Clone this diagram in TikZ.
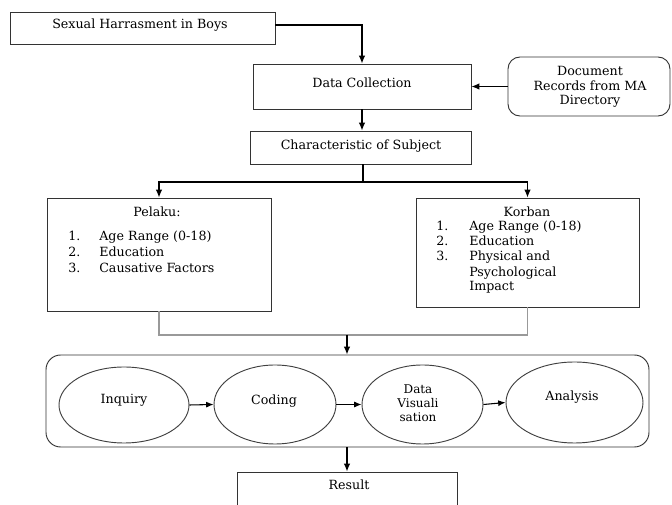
\documentclass[tikz,border=0pt]{standalone}
\usepackage{fontspec}
\setmainfont{DejaVu Serif}
\usetikzlibrary{arrows.meta,shapes.geometric}
\begin{document}
\begin{tikzpicture}[x=0.75pt,y=-0.75pt,
  box/.style={draw=black!80, line width=0.7pt, inner sep=0pt},
  oval/.style={draw=black!75, ellipse, line width=0.7pt, inner sep=0pt},
  conn/.style={line width=0.9pt, -{Latex[length=6pt,width=5pt]}},
  sconn/.style={line width=0.8pt, -{Latex[length=5.5pt,width=4.5pt]}},
  plain/.style={line width=0.9pt},
  grayline/.style={draw=black!40, line width=0.9pt},
  txt/.style={font=\fontsize{9.5}{11}\selectfont, inner sep=0pt},
  stxt/.style={font=\fontsize{9}{10.5}\selectfont, inner sep=0pt}
]
\useasboundingbox (0,0) rectangle (672,505);
\clip (0,0) rectangle (672,505);

% boxes
\node[box, minimum width=198.75pt, minimum height=24pt] (top) at (142.5,28) {};
\node[txt] (toptxt) at (140,25) {Sexual Harrasment in Boys};
\node[box, minimum width=163.5pt, minimum height=33.75pt] (dc) at (362,86.5) {};
\node[txt] (dctxt) at (362,83) {Data Collection};
\node[box, rounded corners=9pt, minimum width=121.5pt, minimum height=44.25pt] (doc) at (589,86.5) {};
\node[txt, align=center] (doctxt) at (590,87) {Document\\Records from MA\\Directory};
\node[box, minimum width=165.75pt, minimum height=24.75pt] (char) at (361,147.5) {};
\node[txt] (chartxt) at (361,146) {Characteristic of Subject};

\node[box, minimum width=168pt, minimum height=84.75pt] (pel) at (159,254.5) {};
\node[txt] (peltitle) at (157,212) {Pelaku:};
\node[txt, anchor=base west] (p1n) at (68,241) {1.};
\node[txt, anchor=base west] (p1) at (99,241) {Age Range (0-18)};
\node[txt, anchor=base west] (p2n) at (68,257) {2.};
\node[txt, anchor=base west] (p2) at (99,257) {Education};
\node[txt, anchor=base west] (p3n) at (68,273) {3.};
\node[txt, anchor=base west] (p3) at (99,273) {Causative Factors};

\node[box, minimum width=167.25pt, minimum height=81.75pt] (kor) at (527.5,252.5) {};
\node[txt] (kortitle) at (527,212) {Korban};
\node[txt, anchor=base west] (k1n) at (436,231) {1.};
\node[txt, anchor=base west] (k1) at (469,231) {Age Range (0-18)};
\node[txt, anchor=base west] (k2n) at (436,246) {2.};
\node[txt, anchor=base west] (k2) at (469,246) {Education};
\node[txt, anchor=base west] (k3n) at (436,261) {3.};
\node[txt, anchor=base west] (k3) at (469,261) {Physical and};
\node[txt, anchor=base west] (k3b) at (469,277) {Psychological};
\node[txt, anchor=base west] (k3c) at (469,291) {Impact};

% process container
\node[box, rounded corners=11pt, minimum width=452.25pt, minimum height=69pt] (cont) at (347.5,401) {};
\node[oval, minimum width=97.5pt, minimum height=57pt] (inq) at (124,405) {};
\node[txt] (inqtxt) at (124,400) {Inquiry};
\node[oval, minimum width=91.5pt, minimum height=59.25pt] (cod) at (275,404.5) {};
\node[txt] (codtxt) at (274,401) {Coding};
\node[oval, minimum width=90.75pt, minimum height=59.25pt] (vis) at (422.5,404.5) {};
\node[stxt, align=center] (vistxt) at (418,403) {Data\\Visuali\\sation};
\node[oval, minimum width=102.75pt, minimum height=60.75pt] (ana) at (574.5,402.5) {};
\node[txt] (anatxt) at (572,397) {Analysis};

\node[box, minimum width=165pt, minimum height=51pt] (res) at (347,506) {};
\node[txt] (restxt) at (349,485) {Result};

% connectors
\coordinate (sp) at (363,182);
\coordinate (mg) at (347,335);
\draw[conn] (top.east) ++(0,-3) -| (dc.north);
\draw[conn] (doc.west) -- (dc.east);
\draw[conn] (dc.south) -- (char.north -| dc.south);
\draw[plain] (char.south -| sp) -- (sp);
\draw[conn] (sp) -| (pel.north);
\draw[conn] (sp) -| (kor.north);
\draw[grayline] (pel.south) |- (mg);
\draw[grayline] (kor.south) |- (mg);
\draw[conn] (mg) -- (cont.north -| mg);
\draw[sconn] (inq.east) -- (cod.west);
\draw[sconn] (cod.east) -- (vis.west);
\draw[sconn] (vis.east) -- (ana.west);
\draw[conn] (cont.south -| mg) -- (res.north -| mg);
\end{tikzpicture}
\end{document}
